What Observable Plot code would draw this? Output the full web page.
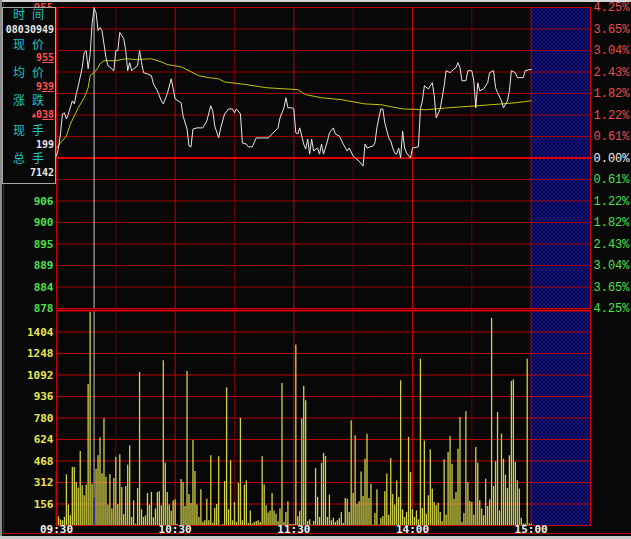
<!DOCTYPE html>
<html><head><meta charset="utf-8">
<script src="https://cdn.jsdelivr.net/npm/d3@7"></script>
<script src="https://cdn.jsdelivr.net/npm/@observablehq/plot@0.6"></script>
<style>
html,body{margin:0;padding:0;background:#080808;}
#wrap{position:relative;width:631px;height:539px;overflow:hidden;background:#080808;}
#wrap svg.plot{position:absolute;left:0;}
#topline{position:absolute;left:0;top:0;width:631px;height:2px;background:#d4d4d4;}
#leftline{position:absolute;left:0;top:0;width:2px;height:539px;background:#8c8c8c;}
#botline{position:absolute;left:0;top:536px;width:631px;height:3px;background:#c8c8c8;}
#outer{position:absolute;left:3px;top:3px;width:640px;height:530px;border-left:1px solid #b00000;border-bottom:1px solid #b00000;}
#info{position:absolute;left:2px;top:7px;width:52px;height:175px;border:1px solid #a8a8a8;background:#080808;}
#info .cn{position:absolute;left:10px;font-family:"Noto Sans CJK SC";font-size:12px;letter-spacing:7px;color:#18c4c4;line-height:12px;height:12px;white-space:nowrap;}
#info .num{position:absolute;right:1px;font-family:"DejaVu Sans Mono";font-weight:bold;font-size:10px;line-height:10px;height:10px;color:#e8e8e8;white-space:nowrap;}
#info .num.r{color:#ff5454;}
#info .tri{font-size:7px;vertical-align:1px;}
</style></head><body>
<svg width="0" height="0" style="position:absolute">
<defs><pattern id="hatch" width="4" height="4" patternUnits="userSpaceOnUse">
<rect width="4" height="4" fill="#00003c"/>
<path d="M0,0L4,4M4,0L0,4" stroke="#1a1a9c" stroke-width="0.8"/>
</pattern></defs></svg>
<div id="wrap"></div>
<script>
// ---------- data ----------
const prevClose = 917;
const maxPct = 4.25;
const priceTickLabels = ["955","950","945","939","934","928","923","917","911","906","900","895","889","884","878"];
const pctTickLabels = ["4.25%","3.65%","3.04%","2.43%","1.82%","1.22%","0.61%","0.00%","0.61%","1.22%","1.82%","2.43%","3.04%","3.65%","4.25%"];
const volTicks = [156,312,468,624,780,936,1092,1248,1404];
const volMax = 1560;
const timeTicks = [0,60,120,180,240];
const timeLabels = ["09:30","10:30","11:30","14:00","15:00"];
const gridMinutes = [30,60,90,120,150,180,210,240];
const cursorMinute = 19;

const priceMinutes = [
0,1,2,3,4,5,6,8,9,10,
11,13,14,15,16,17,18,19,20,21,
22,23,25,26,28,29,30,31,32,34,
35,36,37,38,39,41,42,43,44,46,
48,49,51,53,54,56,58,59,60,63,
64,66,67,68,69,71,74,76,78,79,
80,82,83,85,87,89,90,91,93,94,
96,97,99,101,107,109,112,113,115,116,
117,119,120,121,122,123,125,126,127,128,
129,130,132,133,134,135,137,138,140,141,
143,145,147,148,150,151,153,155,156,157,
160,161,162,163,164,165,166,168,169,170,
171,172,173,174,175,176,177,179,180,183,
184,185,186,188,189,190,191,192,194,195,
196,197,199,200,202,203,204,205,207,208,
210,211,212,213,214,216,218,219,221,222,
223,225,226,228,229,230,232,233,236,237,
239,240];
const prices = [
917.5,919.6,923.2,928.4,928.7,927.1,928.4,931.8,931.0,933.6,
935.7,940.4,944.3,944.8,940.1,943.9,951.8,955.7,954.7,950.0,
950.8,950.0,943.0,940.9,940.1,939.6,944.8,944.8,949.5,947.9,
944.8,939.6,941.7,939.6,940.1,940.9,944.8,941.7,939.1,938.8,
938.3,936.2,934.4,931.8,931.0,933.6,937.5,934.9,932.3,931.3,
927.9,924.5,920.1,919.9,924.5,924.8,924.8,926.6,930.5,929.2,
925.3,922.2,924.8,928.4,929.7,929.7,928.7,929.7,928.4,920.9,
920.6,919.9,919.9,922.2,922.2,923.2,924.8,927.4,930.0,932.6,
930.0,930.0,929.7,923.5,923.2,924.8,920.6,919.3,921.9,918.0,
921.9,918.8,919.6,918.0,920.6,918.0,921.4,923.5,924.8,923.2,
922.7,920.6,918.8,919.6,917.5,917.0,916.2,914.9,920.6,919.6,
920.1,920.9,924.8,927.4,929.7,929.7,926.1,922.2,921.4,919.6,
918.3,918.0,919.6,917.0,924.0,919.6,918.3,917.0,919.6,919.9,
929.7,931.8,935.7,934.9,935.7,936.5,933.1,927.4,929.7,932.6,
935.7,939.6,939.1,939.6,940.4,941.7,940.4,937.0,937.0,939.6,
939.6,937.0,930.0,936.5,934.4,934.9,936.5,939.1,939.6,935.2,
933.9,931.8,930.0,931.8,934.4,939.6,939.1,937.8,937.8,939.6,
939.9,939.9];

const avgMinutes = [0,2,5,7,9,11,14,16,17,19,21,22,24,30,35,40,48,53,56,63,67,72,77,82,85,96,106,122,126,134,144,156,164,175,187,198,212,225,232,240];
const avgPrices = [919.6,920.9,922.7,925.8,927.9,930.0,932.6,935.2,938.3,939.1,940.4,941.4,942.2,942.2,942.7,942.5,942.7,941.9,941.2,940.6,939.6,938.3,937.8,937.5,936.7,936.0,935.2,934.7,933.4,932.6,932.1,931.0,930.8,929.7,929.5,930.0,930.5,931.0,931.3,931.8];

const volumes = [
389,63,41,34,58,368,148,70,421,421,
312,271,537,288,215,293,1023,1546,300,199,
409,506,636,375,774,351,148,370,119,341,
493,152,513,276,80,283,438,578,58,179,
10,269,1110,114,58,70,232,148,240,56,
119,240,244,143,1195,452,240,148,104,177,
186,7,2,334,312,138,1118,225,160,617,
392,148,58,259,22,34,191,34,506,17,
123,152,498,2,7,319,999,114,469,34,
167,22,305,777,34,293,324,15,106,10,
22,29,34,22,498,293,143,90,106,232,
106,82,27,119,1030,22,94,172,7,7,
7,1309,63,102,772,1009,905,29,41,2,
29,414,203,58,450,523,501,58,220,34,
53,22,34,51,94,15,196,191,94,760,
232,651,155,172,389,210,481,663,196,300,
2,87,259,2,51,65,244,373,75,486,
225,148,322,203,1050,114,58,94,639,385,
114,58,106,41,1207,123,612,82,215,549,
264,167,143,162,94,27,477,77,530,646,
445,191,240,554,784,22,87,825,312,174,
167,75,566,452,179,119,70,336,138,186,
1502,283,462,820,106,663,481,365,269,506,
1045,1057,457,324,264,53,10,10,1207,10,
10];

const infoLabels = ["时间","现价","均价","涨跌","现手","总手"];
const infoValues = ["08030949","955","939","038","199","7142"];

// ---------- build ----------
const levelPrice = k => prevClose * (1 + k * maxPct / 700);
const levelIdx = d3.range(7, -8, -1);
const levels = levelIdx.map((k, i) => ({k, price: levelPrice(k), plabel: priceTickLabels[i], pct: pctTickLabels[i]}));
// left price labels lying fully under the info box are not visible in the reference
const visibleLeft = levels.filter(d => d.k === 7 || d.k < 0);
const priceData = priceMinutes.map((m, i) => ({m, p: prices[i]}));
const avgData = avgMinutes.map((m, i) => ({m, p: avgPrices[i]}));
const volData = volumes.map((v, m) => ({m, v}));

const RED = "#ec4c4c", GREEN = "#4ce04c", WHITE = "#f4f4f4", YEL = "#e8e850";
const colorOf = k => k > 0 ? RED : k < 0 ? GREEN : WHITE;
const gridCol = m => m % 60 === 0 ? "#c00000" : "#6c0000";
const yLo = levelPrice(-7), yHi = levelPrice(7);

const pricePlot = Plot.plot({
  width: 631, height: 310,
  marginLeft: 56, marginRight: 41, marginTop: 7, marginBottom: 2,
  x: {domain: [0, 270], axis: null},
  y: {domain: [yLo, yHi], axis: null},
  color: {type: "identity"},
  style: {background: "transparent", overflow: "visible"},
  marks: [
    Plot.rect([0], {x1: 240, x2: 270, y1: yLo, y2: yHi, fill: "url(#hatch)"}),
    Plot.ruleY(levels.filter(d => d.k !== 0 && Math.abs(d.k) < 7), {y: "price", stroke: "#9c0000"}),
    Plot.ruleX(gridMinutes, {x: d => d, stroke: gridCol}),
    Plot.frame({stroke: "#c80000"}),
    Plot.ruleY([prevClose], {stroke: "#e00000", strokeWidth: 2}),
    Plot.ruleX([cursorMinute], {stroke: "#c4c4c4"}),
    Plot.line(avgData, {x: "m", y: "p", stroke: "#c4c400", strokeWidth: 1}),
    Plot.line(priceData, {x: "m", y: "p", stroke: "#e8e8e8", strokeWidth: 1}),
    Plot.text(visibleLeft, {y: "price", text: "plabel", frameAnchor: "left", dx: -3, textAnchor: "end",
      fill: d => colorOf(d.k), fontFamily: "DejaVu Sans Mono", fontWeight: "bold", fontSize: 11, ariaLabel: "plabels"}),
    Plot.text(levels, {y: "price", text: "pct", frameAnchor: "right", dx: 3, textAnchor: "start",
      fill: d => colorOf(d.k), fontFamily: "Liberation Mono", fontSize: 12})
  ]
});

const volPlot = Plot.plot({
  width: 631, height: 231,
  marginLeft: 56, marginRight: 41, marginTop: 0, marginBottom: 16,
  x: {domain: [0, 270], axis: null},
  y: {domain: [0, volMax], axis: null},
  color: {type: "identity"},
  style: {background: "transparent", overflow: "visible"},
  marks: [
    Plot.rect([0], {x1: 240, x2: 270, y1: 0, y2: volMax, fill: "url(#hatch)"}),
    Plot.ruleY(volTicks, {y: d => d, stroke: "#bc0000"}),
    Plot.ruleX(gridMinutes, {x: d => d, stroke: gridCol}),
    Plot.ruleX([cursorMinute], {stroke: "#c4c4c4"}),
    Plot.ruleX(volData, {x: "m", y1: 0, y2: "v", stroke: d => d.m === cursorMinute ? "#1c1cb0" : "#d2d246", strokeWidth: 1.3}),
    Plot.frame({stroke: "#c80000"}),
    Plot.ruleY([volMax], {stroke: "#e00000", strokeWidth: 2}),
    Plot.text(volTicks, {y: d => d, text: d => String(d), frameAnchor: "left", dx: -3, textAnchor: "end",
      fill: YEL, fontFamily: "DejaVu Sans Mono", fontWeight: "bold", fontSize: 11}),
    Plot.text(timeTicks, {x: d => d, text: (d, i) => timeLabels[i], frameAnchor: "bottom", dy: 7,
      fill: WHITE, fontFamily: "DejaVu Sans Mono", fontWeight: "bold", fontSize: 11})
  ]
});

const wrap = document.getElementById("wrap");
["outer"].forEach(id => { const d = document.createElement("div"); d.id = id; wrap.appendChild(d); });
pricePlot.style.top = "0px";
volPlot.style.top = "308px";
wrap.appendChild(pricePlot);
wrap.appendChild(volPlot);

// underline the two decimal digits of the price labels
pricePlot.querySelectorAll('g[aria-label="plabels"] text').forEach(t => {
  const s = t.textContent;
  t.textContent = s.slice(0, -2);
  const ts = document.createElementNS("http://www.w3.org/2000/svg", "tspan");
  ts.setAttribute("text-decoration", "underline");
  ts.textContent = s.slice(-2);
  t.appendChild(ts);
});

// info box
const info = document.createElement("div");
info.id = "info";
const labelTops = [0, 30, 58, 86, 116, 144];
const valueTops = [17, 45, 74, 102, 132, 160];
infoLabels.forEach((s, i) => {
  const d = document.createElement("div");
  d.className = "cn"; d.style.top = labelTops[i] + "px"; d.textContent = s;
  info.appendChild(d);
  const v = document.createElement("div");
  v.className = "num" + (i >= 1 && i <= 3 ? " r" : "");
  v.style.top = valueTops[i] + "px";
  const val = infoValues[i];
  if (i >= 1 && i <= 3) {
    v.innerHTML = (i === 3 ? '<span class="tri">▲</span>' : "") + val.slice(0, -2) + "<u>" + val.slice(-2) + "</u>";
  } else v.textContent = val;
  info.appendChild(v);
});
wrap.appendChild(info);
["topline", "leftline", "botline"].forEach(id => { const d = document.createElement("div"); d.id = id; wrap.appendChild(d); });
</script></body></html>
